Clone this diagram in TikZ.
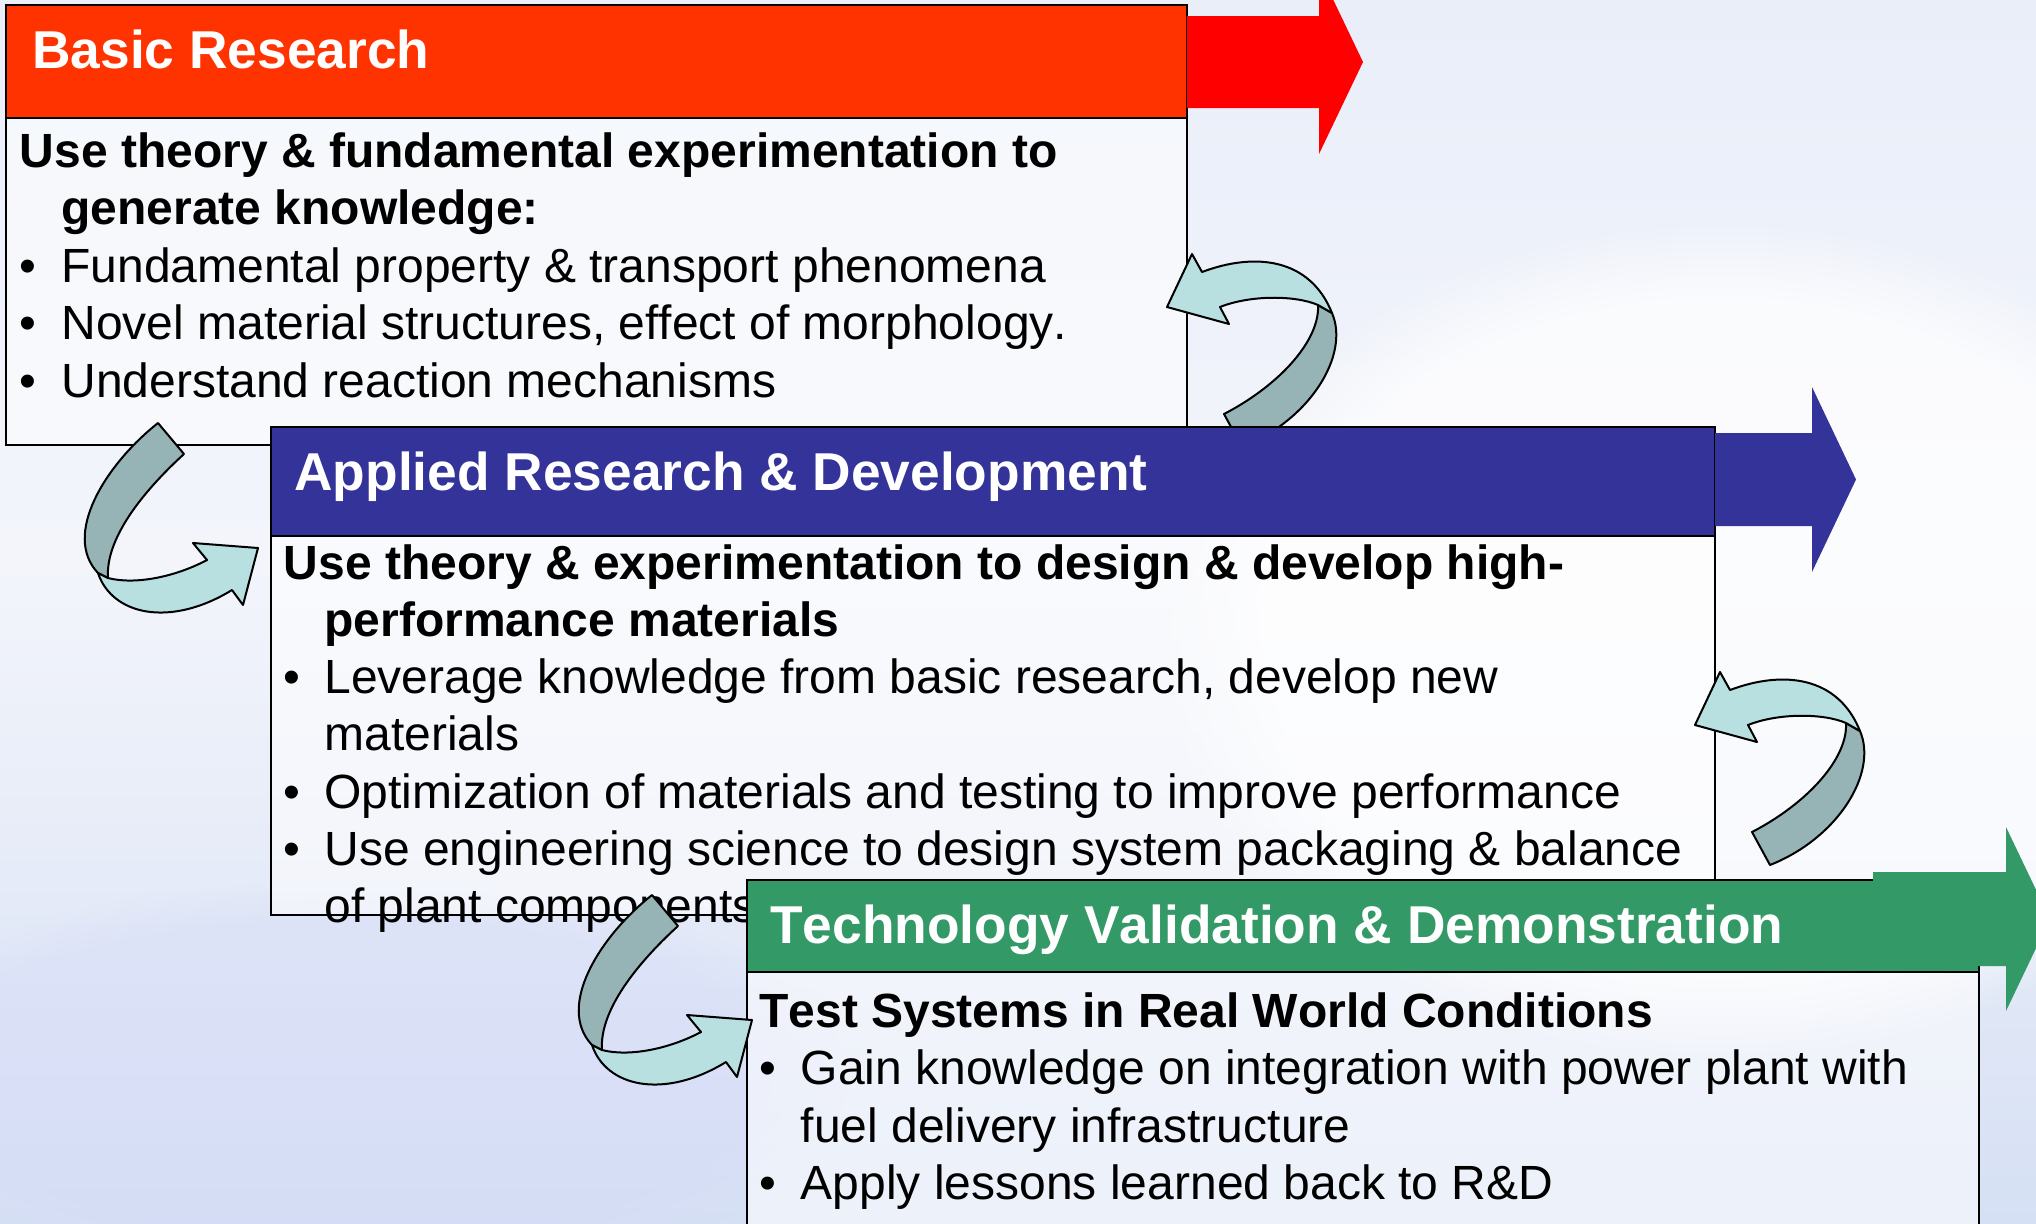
\documentclass[tikz,border=0pt]{standalone}
\usepackage{fontspec}
\setmainfont{Liberation Sans}[Kerning=Off]
\usetikzlibrary{fadings}
\definecolor{brRed}{RGB}{255,51,0}
\definecolor{arRed}{RGB}{255,0,0}
\definecolor{brBlue}{RGB}{51,51,153}
\definecolor{brGreen}{RGB}{51,153,102}
\definecolor{ribLight}{RGB}{184,224,224}
\definecolor{ribDark}{RGB}{150,180,182}
\definecolor{skyTop}{RGB}{233,238,249}
\definecolor{skyMid}{RGB}{243,245,251}
\definecolor{skyBot}{RGB}{214,224,244}

\tikzset{
  hdr/.style={draw=black, line width=1.2pt},
  bodybox/.style={draw=black, line width=1.2pt, fill=white, fill opacity=0.55},
  hdrtxt/.style={anchor=base west, inner sep=0, text=white,
    font=\fontsize{26.65}{30}\selectfont\bfseries},
  lead/.style={anchor=base west, inner sep=0,
    font=\fontsize{24}{28}\selectfont\bfseries},
  item/.style={anchor=base west, inner sep=0,
    font=\fontsize{24}{28}\selectfont},
  rib/.style={draw=black, line width=1pt, line join=round},
  % ribbon that rises on the right and turns back to the left
  backloop/.pic={
    \path[rib, fill=ribDark] (1318,305) -- (1332,313)
      .. controls (1350,355) and (1310,420) .. (1242,447)
      -- (1224,414) .. controls (1280,385) and (1320,340) .. (1318,305) -- cycle;
    \path[rib, fill=ribLight] (1167,307) -- (1192,254) -- (1202,272)
      .. controls (1255,252) and (1310,258) .. (1332,313)
      -- (1318,305) .. controls (1295,295) and (1250,295) .. (1220,307)
      -- (1229,324) -- cycle;
  },
  % ribbon that drops on the left and turns forward to the right
  fwdloop/.pic={
    \path[rib, fill=ribDark] (158,423) .. controls (105,465) and (62,535) .. (98,573)
      -- (108,578) .. controls (105,535) and (150,485) .. (184,454) -- cycle;
    \path[rib, fill=ribLight] (98,573) .. controls (112,615) and (170,628) .. (232,590)
      -- (243,605) -- (258,548) -- (193,543) -- (207,560)
      .. controls (175,577) and (135,585) .. (108,578) -- cycle;
  },
}

\begin{document}
\begin{tikzpicture}[x=0.5pt,y=-0.5pt]
\useasboundingbox (0,0) rectangle (2036,1223);
\clip (0,0) rectangle (2036,1223);
% sky and water backdrop
\shade[top color=skyTop, bottom color=skyMid] (0,0) rectangle (2036,560);
\shade[top color=skyMid, bottom color=skyBot] (0,560) rectangle (2036,1223);
\fill[white, opacity=0.75, path fading=circle with fuzzy edge 20 percent]
  (1720,640) ellipse [x radius=560, y radius=420];
\fill[skyBot!85!blue!60!white, opacity=0.35, path fading=circle with fuzzy edge 20 percent]
  (350,1080) ellipse [x radius=520, y radius=200];

% ---------- Basic Research ----------
\path[bodybox] (6,118) rectangle (1187,445);
\path[hdr, fill=brRed] (6,5) rectangle (1187,118);
\fill[arRed] (1187,16) -- (1319,16) -- (1319,-30) -- (1363,62)
  -- (1319,154) -- (1319,108) -- (1187,108) -- cycle;
\node[hdrtxt] (brTitle) at (32,68) {Basic Research};
\node[lead] (brLead1) at (19.5,167) {Use theory \& fundamental experimentation to};
\node[lead] (brLead2) at (61,224.5) {generate knowledge:};
\node[item] (brDot1) at (19.5,282) {•};
\node[item] (brItem1) at (61,282) {Fundamental property \& transport phenomena};
\node[item] (brDot2) at (19.5,339.5) {•};
\node[item] (brItem2) at (61,339.5) {Novel material structures, effect of morphology.};
\node[item] (brDot3) at (19.5,397) {•};
\node[item] (brItem3) at (61,397) {Understand reaction mechanisms};

\pic at (0,0) {backloop};

% ---------- Applied Research & Development ----------
\path[bodybox] (271,536) rectangle (1715,915);
\path[hdr, fill=brBlue] (271,427) rectangle (1715,536);
\fill[brBlue] (1715,433) -- (1812,433) -- (1812,387) -- (1856,479.5)
  -- (1812,572) -- (1812,526) -- (1715,526) -- cycle;
\node[hdrtxt] (arTitle) at (294,490) {Applied Research \& Development};
\node[lead] (arLead1) at (283.5,579) {Use theory \& experimentation to design \& develop high-};
\node[lead] (arLead2) at (324,636.3) {performance materials};
\node[item] (arDot1) at (283.5,693.6) {•};
\node[item] (arItem1) at (324,693.6) {Leverage knowledge from basic research, develop new};
\node[item] (arItem1b) at (324,750.9) {materials};
\node[item] (arDot2) at (283.5,808.2) {•};
\node[item] (arItem2) at (324,808.2) {Optimization of materials and testing to improve performance};
\node[item] (arDot3) at (283.5,865.5) {•};
\node[item] (arItem3) at (324,865.5) {Use engineering science to design system packaging \& balance};
\node[item] (arItem3b) at (324,922.8) {of plant components};

\pic at (0,0) {fwdloop};
\pic at (528,418) {backloop};

% ---------- Technology Validation & Demonstration ----------
\path[bodybox] (747,972) rectangle (1979,1260);
\path[hdr, fill=brGreen] (747,880) rectangle (1979,972);
\fill[brGreen] (1873,872) -- (2006,872) -- (2006,827) -- (2050,919)
  -- (2006,1011) -- (2006,966) -- (1873,966) -- cycle;
\node[hdrtxt] (tvTitle) at (770,943) {Technology Validation \& Demonstration};
\node[lead] (tvLead) at (759,1027) {Test Systems in Real World Conditions};
\node[item] (tvDot1) at (759,1084.5) {•};
\node[item] (tvItem1) at (800.5,1084.5) {Gain knowledge on integration with power plant with};
\node[item] (tvItem1b) at (800.5,1142) {fuel delivery infrastructure};
\node[item] (tvDot2) at (759,1199.5) {•};
\node[item] (tvItem2) at (800.5,1199.5) {Apply lessons learned back to R\&D};

\pic at (494,472) {fwdloop};
\end{tikzpicture}
\end{document}
